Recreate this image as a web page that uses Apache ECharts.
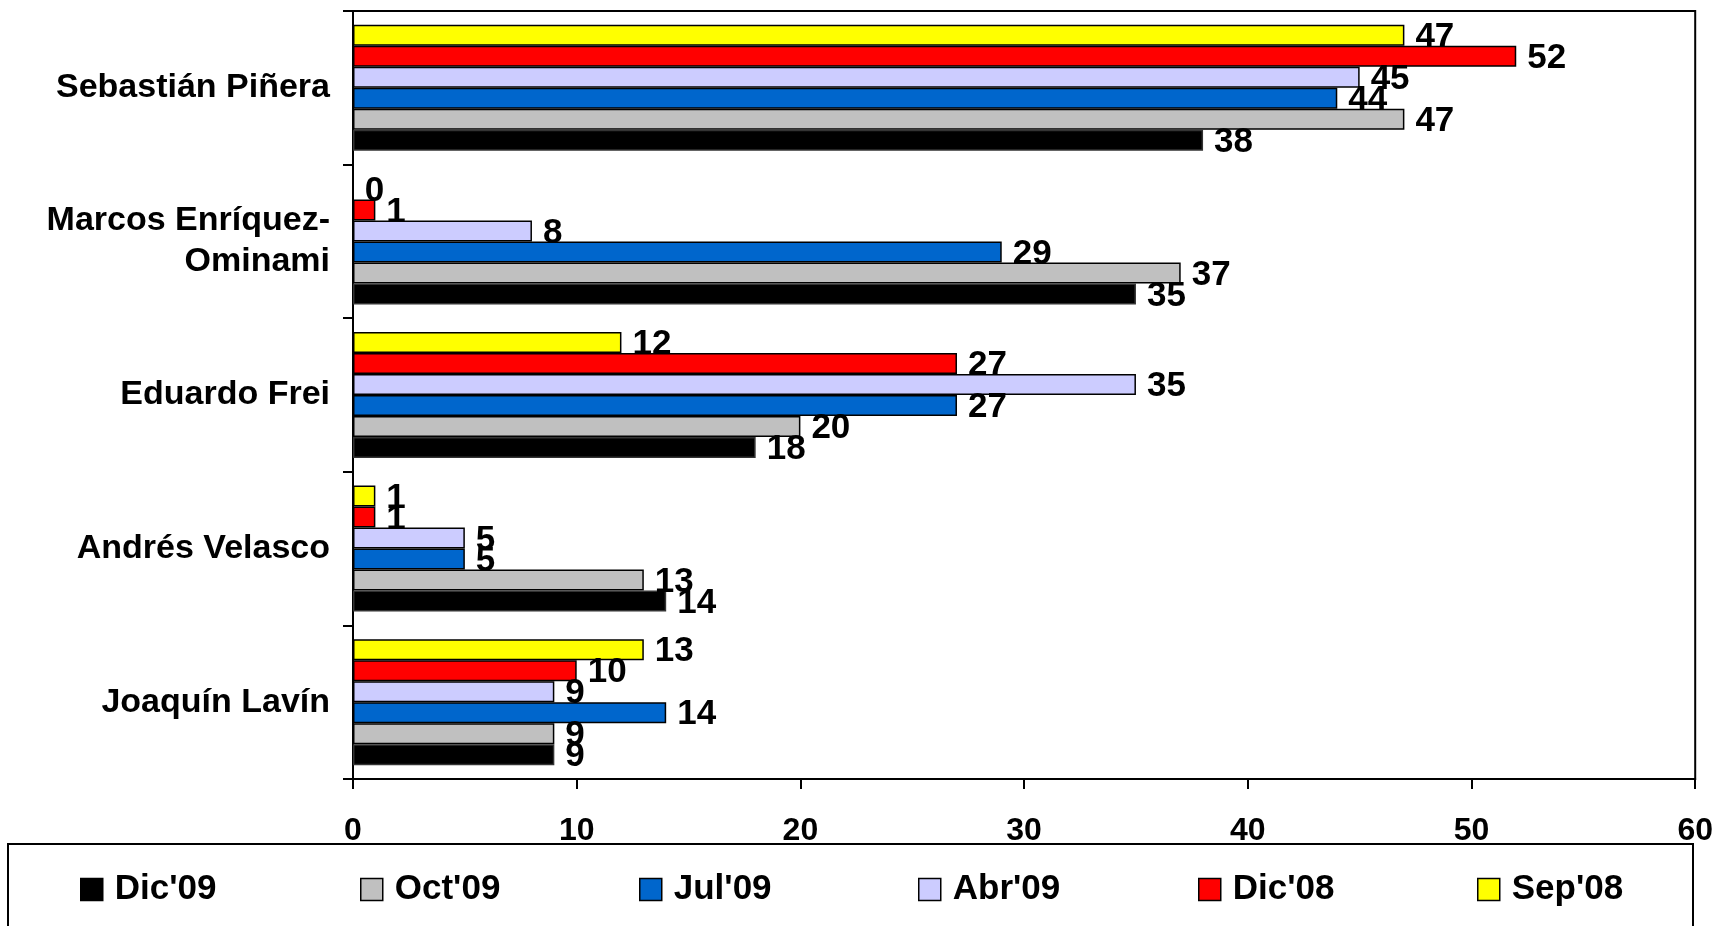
<!DOCTYPE html>
<html><head><meta charset="utf-8">
<script src="https://cdn.jsdelivr.net/npm/echarts@6/dist/echarts.min.js"></script>
<style>html,body{margin:0;padding:0;background:#fff}#c{width:1716px;height:926px}</style>
</head><body><div id="c"></div>
<script>
const categories = ['Sebastián Piñera', 'Marcos Enríquez-\nOminami', 'Eduardo Frei', 'Andrés Velasco', 'Joaquín Lavín'];
const seriesNames = ["Dic'09", "Oct'09", "Jul'09", "Abr'09", "Dic'08", "Sep'08"];
const dic09 = [38, 35, 18, 14, 9];
const oct09 = [47, 37, 20, 13, 9];
const jul09 = [44, 29, 27, 5, 14];
const abr09 = [45, 8, 35, 5, 9];
const dic08 = [52, 1, 27, 1, 10];
const sep08 = [47, 0, 12, 1, 13];
const xTicks = [0, 10, 20, 30, 40, 50, 60];

const values = [dic09, oct09, jul09, abr09, dic08, sep08];
const colors = ['#000000', '#C0C0C0', '#0066CC', '#CCCCFF', '#FF0000', '#FFFF00'];
const FONT = '"Liberation Sans", Arial, sans-serif';
const legendLefts = [80, 360, 639, 918, 1198, 1477];

const chart = echarts.init(document.getElementById('c'), null, {renderer: 'canvas'});
// series drawn top-to-bottom within each group: Sep'08 at top, Dic'09 at bottom
const order = [5, 4, 3, 2, 1, 0];
const series = order.map(i => ({
  name: seriesNames[i], type: 'bar', data: values[i],
  barGap: '0%', barCategoryGap: '18%',
  itemStyle: {color: colors[i], borderColor: i === 0 ? '#333' : '#000', borderWidth: 1.5},
  label: {show: true, position: 'right', distance: 11, offset: [0, 2], color: '#000',
    fontFamily: FONT, fontWeight: 'bold', fontSize: 35},
  emphasis: {disabled: true},
  animation: false
}));
const legends = seriesNames.map((n, i) => ({
  data: [n], left: legendLefts[i], top: 872, orient: 'horizontal',
  icon: 'rect', itemWidth: 22, itemHeight: 22, itemGap: 0,
  padding: 0, textStyle: {fontFamily: FONT, fontWeight: 'bold', fontSize: 35, color: '#000', padding: [0, 0, 0, 7]},
  itemStyle: {borderColor: '#000', borderWidth: 1.5},
  selectedMode: false, z: 10
}));
chart.setOption({
  animation: false,
  backgroundColor: '#fff',
  grid: {left: 353, top: 11, right: 20, bottom: 147, show: true, borderColor: '#000', borderWidth: 2, backgroundColor: 'transparent'},
  xAxis: {type: 'value', min: xTicks[0], max: xTicks[xTicks.length - 1], interval: 10,
    axisLine: {show: true, lineStyle: {color: '#000', width: 2}},
    axisTick: {show: true, length: 10, inside: false, lineStyle: {color: '#000', width: 2}},
    splitLine: {show: false},
    axisLabel: {margin: 36, color: '#000', fontFamily: FONT, fontWeight: 'bold', fontSize: 32}},
  yAxis: {type: 'category', data: categories, inverse: true,
    axisLine: {show: true, lineStyle: {color: '#000', width: 2}},
    axisTick: {show: true, length: 10, alignWithLabel: false, lineStyle: {color: '#000', width: 2}},
    axisLabel: {margin: 23, color: '#000', fontFamily: FONT, fontWeight: 'bold', fontSize: 34, lineHeight: 41, align: 'right'}},
  legend: legends,
  graphic: [{type: 'rect', shape: {x: 8, y: 844, width: 1685, height: 120}, style: {fill: 'none', stroke: '#000', lineWidth: 2}, z: 5}],
  series: series
});
</script></body></html>
